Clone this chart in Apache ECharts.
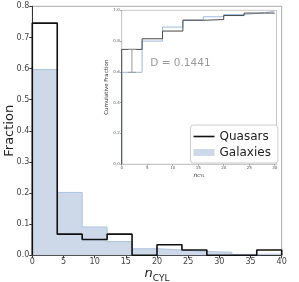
<!DOCTYPE html>
<html><head><meta charset="utf-8">
<script src="https://cdn.jsdelivr.net/npm/echarts@6/dist/echarts.min.js"></script>
<style>html,body{margin:0;padding:0;background:#fff}#c{width:299px;height:282px}</style></head>
<body><div id="c"></div>
<script>
// Main histogram (bin width 4)
const binEdges = [0, 4, 8, 12, 16, 20, 24, 28, 32, 36, 40];
const quasarFrac = [0.746, 0.068, 0.051, 0.068, 0.0, 0.034, 0.017, 0.0, 0.0, 0.017];
const galaxyFrac = [0.597, 0.202, 0.091, 0.044, 0.021, 0.017, 0.012, 0.010, 0.003, 0.004];
const xTicks = [0, 5, 10, 15, 20, 25, 30, 35, 40];
const yTicks = ['0.0', '0.1', '0.2', '0.3', '0.4', '0.5', '0.6', '0.7', '0.8'];
// Inset cumulative fractions
const cdfEdges = [0, 4, 8, 12, 16, 20, 24, 28, 30];
const quasarCdf = [0.746, 0.815, 0.865, 0.935, 0.940, 0.966, 0.982, 0.982];
const galaxyCdf = [0.597, 0.800, 0.891, 0.938, 0.958, 0.972, 0.984, 0.995];
// KS statistic bracket
const ksX = [2];
const ksLo = [0.597];
const ksHi = [0.746];
const ksText = ['D = 0.1441'];

function histSteps(edges, vals) {
  const d = [[edges[0], 0]];
  vals.forEach((v, i) => d.push([edges[i], v]));
  d.push([edges[edges.length - 1], vals[vals.length - 1]]);
  d.push([edges[edges.length - 1], 0]);
  return d;
}
function cdfSteps(edges, vals) {
  const d = [[edges[0], 0]];
  vals.forEach((v, i) => d.push([edges[i], v]));
  d.push([edges[edges.length - 1], vals[vals.length - 1]]);
  return d;
}

const FF = 'DejaVu Sans';
const chart = echarts.init(document.getElementById('c'), null, {renderer: 'canvas'});
chart.setOption({
  animation: false,
  textStyle: {fontFamily: FF},
  grid: [
    {left: 32.3, right: 17.3, top: 6.3, bottom: 26.7, show: true, borderColor: '#aaa', borderWidth: 1,
     backgroundColor: 'transparent', containLabel: false, outerBoundsMode: 'none'},
    {left: 121.7, right: 22.5, top: 10.3, bottom: 117.8, show: true, borderColor: '#c8c8c8', borderWidth: 1,
     backgroundColor: '#fff', z: 3, containLabel: false, outerBoundsMode: 'none'}
  ],
  xAxis: [
    {gridIndex: 0, type: 'value', min: 0, max: 40, interval: 5,
     axisLine: {show: true, lineStyle: {color: '#333', width: 1}},
     axisTick: {show: true, length: 3, lineStyle: {color: '#333'}},
     axisLabel: {fontSize: 8, color: '#444', margin: 3, fontFamily: FF,
       formatter: v => xTicks.includes(v) ? String(v) : ''},
     splitLine: {show: false},
     name: '{n|n}{s|CYL}', nameLocation: 'middle', nameGap: 12, nameMoveOverlap: false,
     nameTextStyle: {rich: {
       n: {fontSize: 13, fontStyle: 'italic', color: '#222', fontFamily: FF, verticalAlign: 'bottom'},
       s: {fontSize: 9, color: '#222', fontFamily: FF, verticalAlign: 'bottom', padding: [0, 0, -3, 0]}
     }}},
    {gridIndex: 1, type: 'value', min: 0, max: 30.35, interval: 5, z: 4,
     axisLine: {show: true, lineStyle: {color: '#c8c8c8', width: 1}},
     axisTick: {show: true, length: 1.5, lineStyle: {color: '#999'}},
     axisLabel: {fontSize: 4, color: '#555', margin: 2, showMaxLabel: false, fontFamily: FF},
     splitLine: {show: false},
     name: '{n|n}{s|CYL}', nameLocation: 'middle', nameGap: 8, nameMoveOverlap: false,
     nameTextStyle: {rich: {
       n: {fontSize: 6, fontStyle: 'italic', color: '#333', fontFamily: FF, verticalAlign: 'bottom'},
       s: {fontSize: 4, color: '#333', fontFamily: FF, verticalAlign: 'bottom'}
     }}}
  ],
  yAxis: [
    {gridIndex: 0, type: 'value', min: 0, max: 0.8, interval: 0.1,
     axisLine: {show: true, lineStyle: {color: '#333', width: 1}},
     axisTick: {show: true, length: 3, lineStyle: {color: '#333'}},
     axisLabel: {fontSize: 8, color: '#444', margin: 3, fontFamily: FF,
       formatter: v => yTicks[Math.round(v * 10)] || ''},
     splitLine: {show: false},
     name: 'Fraction', nameLocation: 'middle', nameGap: 16, nameMoveOverlap: false,
     nameTextStyle: {fontSize: 13, color: '#222', fontFamily: FF}},
    {gridIndex: 1, type: 'value', min: 0, max: 1.0, interval: 0.2, z: 4,
     axisLine: {show: true, lineStyle: {color: '#c8c8c8', width: 1}},
     axisTick: {show: true, length: 1.5, lineStyle: {color: '#999'}},
     axisLabel: {fontSize: 4, color: '#555', margin: 2, fontFamily: FF, formatter: v => v.toFixed(1)},
     splitLine: {show: false},
     name: 'Cumulative Fraction', nameLocation: 'middle', nameGap: 12, nameMoveOverlap: false,
     nameTextStyle: {fontSize: 5.5, color: '#333', fontFamily: FF}}
  ],
  legend: {
    orient: 'vertical', left: 190.5, top: 125, z: 10,
    padding: [5, 7, 4, 3], itemGap: 3, itemWidth: 21, itemHeight: 7,
    backgroundColor: '#fff', borderColor: '#ccc', borderWidth: 1, borderRadius: 3,
    textStyle: {fontSize: 12, color: '#222', fontFamily: FF, lineHeight: 13},
    data: [
      {name: 'Quasars', icon: 'path://M0,0H21V1.6H0Z', itemStyle: {color: '#111', borderWidth: 0}},
      {name: 'Galaxies', icon: 'rect', itemStyle: {color: '#cdd9e8', borderWidth: 0}}
    ]
  },
  series: [
    {name: 'Galaxies', type: 'line', xAxisIndex: 0, yAxisIndex: 0, step: 'end',
     data: histSteps(binEdges, galaxyFrac), symbol: 'none', z: 1,
     lineStyle: {color: '#adc3df', width: 1}, itemStyle: {color: '#cdd9e8'},
     areaStyle: {color: '#cdd9e8', opacity: 1}},
    {name: 'Quasars', type: 'line', xAxisIndex: 0, yAxisIndex: 0, step: 'end',
     data: histSteps(binEdges, quasarFrac), symbol: 'none', z: 2,
     lineStyle: {color: '#111', width: 1.6}, itemStyle: {color: '#111'}},
    {name: 'GalCdf', type: 'line', xAxisIndex: 1, yAxisIndex: 1, step: 'end',
     data: cdfSteps(cdfEdges, galaxyCdf), symbol: 'none', z: 5,
     lineStyle: {color: '#9fbadc', width: 1}},
    {name: 'QsoCdf', type: 'line', xAxisIndex: 1, yAxisIndex: 1, step: 'end',
     data: cdfSteps(cdfEdges, quasarCdf), symbol: 'none', z: 6,
     lineStyle: {color: '#4a4a4a', width: 1}},
    {name: 'KS', type: 'custom', xAxisIndex: 1, yAxisIndex: 1, z: 7,
     data: ksX.map((x, i) => [x, ksLo[i], ksHi[i]]),
     renderItem: (params, api) => {
       const x = api.value(0), lo = api.value(1), hi = api.value(2);
       const p1 = api.coord([x, lo]), p2 = api.coord([x, hi]);
       const cap = 4;
       const st = {stroke: '#9a9a9a', lineWidth: 1};
       const mid = api.coord([x + 3.6, (lo + hi) / 2]);
       return {type: 'group', children: [
         {type: 'line', shape: {x1: p1[0], y1: p1[1], x2: p2[0], y2: p2[1]}, style: st},
         {type: 'line', shape: {x1: p1[0] - cap, y1: p1[1], x2: p1[0] + cap, y2: p1[1]}, style: st},
         {type: 'line', shape: {x1: p2[0] - cap, y1: p2[1], x2: p2[0] + cap, y2: p2[1]}, style: st},
         {type: 'text', style: {text: ksText[params.dataIndex], x: mid[0], y: mid[1] + 2,
           fill: '#999', fontSize: 10.5, fontFamily: FF, align: 'left', verticalAlign: 'middle'}}
       ]};
     }}
  ]
});
</script></body></html>
